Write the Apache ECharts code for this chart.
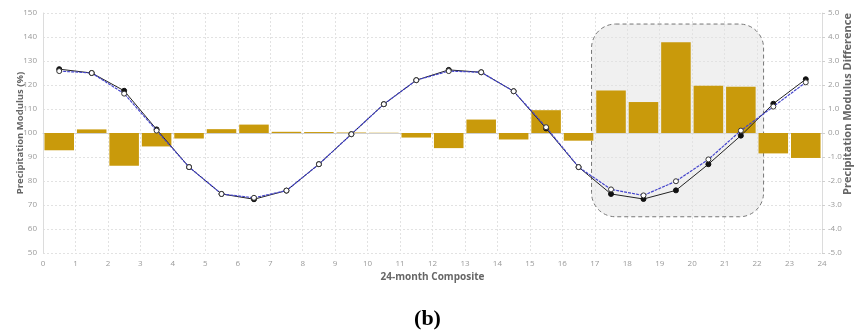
<!DOCTYPE html>
<html><head><meta charset="utf-8">
<script src="https://cdn.jsdelivr.net/npm/echarts@6/dist/echarts.min.js"></script>
<style>html,body{margin:0;padding:0;background:#fff}#c{width:855px;height:333px}</style>
</head><body><div id="c"></div>
<script>
const months = [0.5,1.5,2.5,3.5,4.5,5.5,6.5,7.5,8.5,9.5,10.5,11.5,12.5,13.5,14.5,15.5,16.5,17.5,18.5,19.5,20.5,21.5,22.5,23.5];
const barCats = ['1','2','3','4','5','6','7','8','9','10','11','12','13','14','15','16','17','18','19','20','21','22','23','24'];
const observed = [126.6,125.0,117.6,101.5,85.8,74.6,72.4,76.0,87.0,99.5,112.0,122.0,126.3,125.3,117.4,101.9,85.8,74.6,72.5,76.1,87.0,98.9,112.2,122.4];
const modeled = [125.8,125.0,116.4,101.0,85.8,74.6,73.0,76.0,87.0,99.5,112.0,122.0,125.8,125.3,117.4,102.4,85.8,76.5,74.0,79.9,89.0,101.0,111.0,121.1];
const difference = [-0.72,0.15,-1.36,-0.56,-0.23,0.16,0.35,0.05,0.04,0.02,0.01,-0.19,-0.63,0.56,-0.27,0.95,-0.32,1.77,1.29,3.78,1.97,1.93,-0.85,-1.04];
const highlightX = [16.9, 22.2];
const highlightY = [145.4, 65.1];

const chart = echarts.init(document.getElementById('c'));
const font = 'Open Sans';
const labelStyle = {color:'#9a9a9a', fontSize:8, fontFamily:font};
const nameStyle = {color:'#666', fontSize:10, fontWeight:'bold', fontFamily:font};
const gridLine = {show:true, lineStyle:{color:'#e2e2e2', type:[2,2], width:1}};
chart.setOption({
  animation:false,
  title:{text:'(b)', left:'center', top:303, textStyle:{fontFamily:'Liberation Serif', fontSize:22, fontWeight:'bold', color:'#000'}},
  grid:{left:43, right:33, top:13, bottom:80, outerBoundsMode:'none', containLabel:false},
  xAxis:[
    {type:'value', min:0, max:24, interval:1, name:'24-month Composite', nameLocation:'middle', nameGap:19, nameMoveOverlap:false, nameTextStyle:nameStyle,
     axisLabel:Object.assign({margin:7}, labelStyle), axisLine:{lineStyle:{color:'#cfcfcf'}}, axisTick:{show:false}, splitLine:gridLine},
    {type:'category', data:barCats, show:false, boundaryGap:true}
  ],
  yAxis:[
    {type:'value', min:50, max:150, interval:10, name:'Precipitation Modulus (%)', nameLocation:'middle', nameGap:18, nameMoveOverlap:false,
     nameTextStyle:Object.assign({}, nameStyle, {fontSize:9.5}),
     axisLabel:Object.assign({margin:6}, labelStyle), axisLine:{show:true, lineStyle:{color:'#dcdcdc'}}, axisTick:{show:false}, splitLine:gridLine},
    {type:'value', min:-5, max:5, interval:1, position:'right', name:'Precipitation Modulus Difference', nameLocation:'middle', nameGap:20, nameMoveOverlap:false,
     nameTextStyle:Object.assign({}, nameStyle, {fontSize:11, padding:[0,0,0,58]}),
     axisLabel:Object.assign({margin:6, formatter:v=>v.toFixed(1)}, labelStyle), axisLine:{show:true, lineStyle:{color:'#dcdcdc'}}, axisTick:{show:true, length:3, inside:false, lineStyle:{color:'#cfcfcf'}}, splitLine:{show:false}}
  ],
  series:[
    {type:'bar', xAxisIndex:1, yAxisIndex:1, data:difference, barWidth:'91%', itemStyle:{color:'#c99a0b'}, z:3},
    {type:'line', data:months.map((m,i)=>[m,observed[i]]), symbol:'circle', symbolSize:5, lineStyle:{color:'#222', width:1}, itemStyle:{color:'#111', borderColor:'#111'}, z:4},
    {type:'line', data:months.map((m,i)=>[m,modeled[i]]), symbol:'circle', symbolSize:5, lineStyle:{color:'#4444cc', width:1.2, type:[3,1]}, itemStyle:{color:'#fff', borderColor:'#333', borderWidth:1}, z:5}
  ]
});
const p1 = chart.convertToPixel({xAxisIndex:0, yAxisIndex:0}, [highlightX[0], highlightY[0]]);
const p2 = chart.convertToPixel({xAxisIndex:0, yAxisIndex:0}, [highlightX[1], highlightY[1]]);
chart.setOption({graphic:[{type:'rect', z:1, shape:{x:p1[0], y:p1[1], width:p2[0]-p1[0], height:p2[1]-p1[1], r:24},
  style:{fill:'rgba(225,225,225,0.5)', stroke:'#777', lineWidth:1, lineDash:[4,3]}}]});
</script></body></html>
